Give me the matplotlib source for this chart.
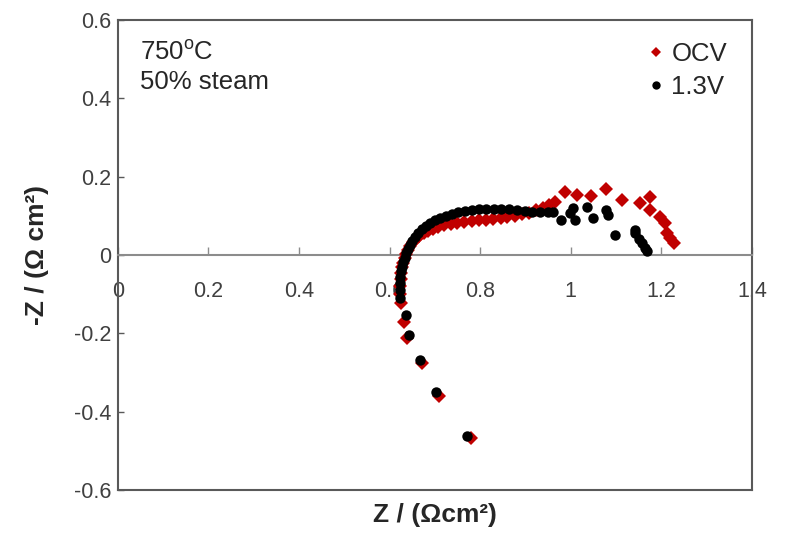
import matplotlib
matplotlib.use("Agg")
import matplotlib.pyplot as plt
from matplotlib.lines import Line2D

plt.rcParams['font.family'] = ['Liberation Sans', 'DejaVu Sans']

# OCV series (red diamonds): Z' and -Z''
ocv_x = [0.780, 0.710, 0.672, 0.638, 0.631, 0.626, 0.624, 0.624, 0.625, 0.626,
         0.628, 0.630, 0.633, 0.636, 0.640, 0.645, 0.651, 0.658, 0.666, 0.675,
         0.685, 0.696, 0.708, 0.721, 0.735, 0.750, 0.765, 0.781, 0.797, 0.813,
         0.829, 0.845, 0.860, 0.876, 0.892, 0.908, 0.923, 0.938, 0.952, 0.966,
         0.987, 1.015, 1.044, 1.077, 1.114, 1.152, 1.174, 1.174, 1.198, 1.209,
         1.213, 1.220, 1.229]
ocv_y = [-0.467, -0.360, -0.276, -0.212, -0.171, -0.122, -0.100, -0.080, -0.062, -0.046,
         -0.032, -0.020, -0.008, 0.003, 0.013, 0.023, 0.032, 0.041, 0.049, 0.056,
         0.062, 0.067, 0.072, 0.076, 0.079, 0.082, 0.084, 0.086, 0.088, 0.090,
         0.092, 0.094, 0.097, 0.100, 0.104, 0.108, 0.114, 0.120, 0.127, 0.134,
         0.161, 0.153, 0.150, 0.168, 0.140, 0.133, 0.148, 0.115, 0.097, 0.082,
         0.056, 0.043, 0.031]

# 1.3 V series (black circles)
v13_x = [0.771, 0.703, 0.668, 0.644, 0.637, 0.623, 0.622, 0.623, 0.624, 0.626,
         0.628, 0.630, 0.633, 0.636, 0.640, 0.645, 0.650, 0.656, 0.663, 0.671,
         0.680, 0.690, 0.700, 0.712, 0.724, 0.737, 0.751, 0.766, 0.781, 0.797,
         0.813, 0.830, 0.847, 0.864, 0.881, 0.898, 0.915, 0.932, 0.949, 0.960,
         0.978, 0.998, 1.004, 1.010, 1.037, 1.050, 1.077, 1.083, 1.097, 1.141,
         1.143, 1.150, 1.158, 1.165, 1.169]
v13_y = [-0.462, -0.349, -0.268, -0.204, -0.153, -0.110, -0.090, -0.072, -0.056, -0.042,
         -0.030, -0.018, -0.007, 0.004, 0.015, 0.026, 0.036, 0.046, 0.056, 0.065,
         0.073, 0.081, 0.088, 0.094, 0.100, 0.105, 0.109, 0.112, 0.115, 0.117,
         0.118, 0.118, 0.117, 0.116, 0.114, 0.112, 0.110, 0.110, 0.110, 0.109,
         0.089, 0.107, 0.120, 0.089, 0.122, 0.094, 0.115, 0.102, 0.051, 0.064,
         0.056, 0.040, 0.030, 0.018, 0.010]

x_ticks = [0, 0.2, 0.4, 0.6, 0.8, 1.0, 1.2, 1.4]
x_tick_labels = ["0", "0.2", "0.4", "0.6", "0.8", "1", "1.2", "1.4"]
y_ticks = [-0.6, -0.4, -0.2, 0, 0.2, 0.4, 0.6]
y_tick_labels = ["-0.6", "-0.4", "-0.2", "0", "0.2", "0.4", "0.6"]

red = '#C00000'
frame = '#595959'
tick_col = '#404040'

fig = plt.figure(figsize=(7.91, 5.33), dpi=100)
ax = fig.add_axes([0.149, 0.0807, 0.8015, 0.882])

ax.plot(ocv_x, ocv_y, linestyle='none', marker='D', markersize=7,
        color=red, markeredgewidth=0, label='OCV', zorder=3)
ax.plot(v13_x, v13_y, linestyle='none', marker='o', markersize=7.5,
        color='black', markeredgewidth=0, label='1.3V', zorder=4)

ax.set_xlim(0, 1.4)
ax.set_ylim(-0.6, 0.6)

# spines
ax.spines['bottom'].set_position(('data', 0))
ax.spines['bottom'].set_color('#8c8c8c')
ax.spines['bottom'].set_linewidth(1.5)
for s in ['left', 'top', 'right']:
    ax.spines[s].set_color(frame)
    ax.spines[s].set_linewidth(1.5)
ax.axhline(-0.6, color=frame, linewidth=1.5, clip_on=False, zorder=5)

ax.set_xticks(x_ticks)
ax.set_xticklabels(x_tick_labels)
ax.set_yticks(y_ticks)
ax.set_yticklabels(y_tick_labels)
ax.tick_params(axis='x', direction='in', length=6, width=1, color='#8c8c8c',
               pad=19, labelsize=15.5, labelcolor=tick_col)
ax.tick_params(axis='y', direction='in', length=4, width=1, color=frame,
               pad=5, labelsize=15.5, labelcolor=tick_col)

ax.set_xlabel('Z / (Ωcm²)', fontsize=19, fontweight='bold', color='#262626')
ax.xaxis.set_label_coords(0.5, -0.028)
ax.set_ylabel('-Z / (Ω cm²)', fontsize=19, fontweight='bold', color='#262626')
ax.yaxis.set_label_coords(-0.108, 0.5)

ax.text(0.035, 0.957, '750$^{\\mathregular{o}}$C\n50% steam', transform=ax.transAxes,
        ha='left', va='top', fontsize=18.5, color='#262626', linespacing=1.25)

handles = [Line2D([], [], linestyle='none', marker='D', color=red, markersize=5, markeredgewidth=0),
           Line2D([], [], linestyle='none', marker='o', color='black', markersize=6, markeredgewidth=0)]
leg = ax.legend(handles, ['OCV', '1.3V'], loc='upper right', bbox_to_anchor=(0.985, 0.985),
                frameon=False, fontsize=18.5, handlelength=0.6, handletextpad=0.3,
                labelspacing=0.35, borderaxespad=0.2)
for t in leg.get_texts():
    t.set_color('#262626')

fig.savefig('out.png', dpi=100)
